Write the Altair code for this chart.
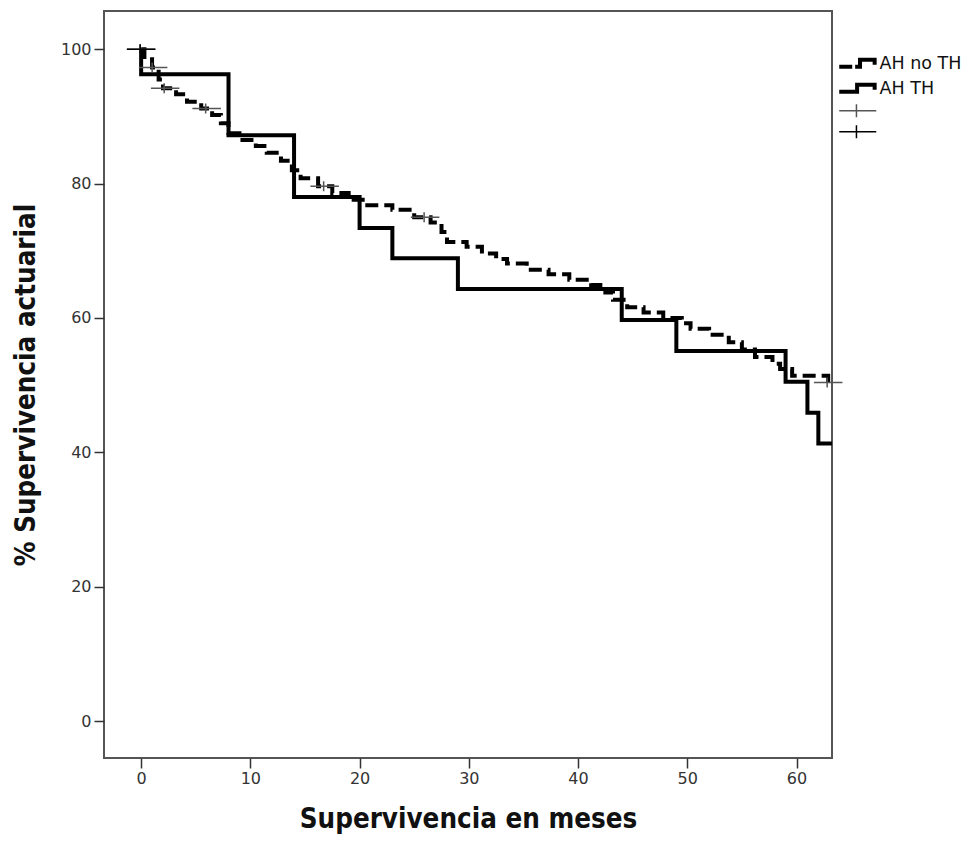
import altair as alt
import pandas as pd

# ---------------- data ----------------
# AH TH (solid step curve): time (months), % survival after the event
th_t = [0, 0, 8, 14, 20, 23, 29, 44, 49, 59, 61, 62, 64]
th_v = [100, 96.3, 87.2, 78.0, 73.4, 68.9, 64.3, 59.7, 55.1, 50.5, 45.9, 41.3, 41.3]

# AH no TH (dashed step curve)
noth_t = [0, 0.3, 1.0, 1.6, 2.0, 3.2, 4.2, 5.5, 6.5, 7.3, 8.0, 9.0, 10.5, 11.5,
          12.8, 13.8, 14.6, 16.2, 17.5, 19.0, 20.5, 23.0, 25.0, 26.5, 27.5, 28.0,
          29.8, 31.2, 32.5, 33.5, 35.3, 37.3, 39.2, 41.2, 42.5, 43.2, 44.5, 46.0,
          47.8, 49.5, 50.3, 52.0, 53.8, 55.0, 56.2, 57.8, 58.5, 59.6, 62.9, 64]
noth_v = [100, 98.5, 97.3, 95.5, 94.2, 93.3, 92.2, 91.2, 90.2, 89.0, 87.5, 86.5, 85.6, 84.6,
          83.4, 82.0, 80.8, 79.6, 78.6, 77.6, 76.8, 76.1, 75.0, 74.2, 72.8, 71.3,
          70.6, 69.6, 68.8, 68.1, 67.2, 66.5, 65.7, 64.9, 63.8, 62.7, 61.6, 60.8,
          60.0, 59.2, 58.4, 57.5, 56.4, 55.3, 54.2, 53.2, 52.4, 51.4, 50.4, 50.4]

# censored observations
cens_noth_t = [0, 1.1, 2.2, 6.0, 16.8, 26.0, 62.9]
cens_noth_v = [100, 97.3, 94.2, 91.2, 79.6, 75.0, 50.4]
cens_th_t = [0]
cens_th_v = [100]

legend_items = ["AH no TH", "AH TH", "c_noth", "c_th"]

x_ticks = [0, 10, 20, 30, 40, 50, 60]
y_ticks = [0, 20, 40, 60, 80, 100]

# ---------------- tables ----------------
df_th = pd.DataFrame({"t": th_t, "v": th_v})
df_noth = pd.DataFrame({"t": noth_t, "v": noth_v})
df_cens = pd.DataFrame({
    "t": cens_noth_t + cens_th_t,
    "v": cens_noth_v + cens_th_v,
    "leg": ["c_noth"] * len(cens_noth_t) + ["c_th"] * len(cens_th_t),
})

# ---------------- scales / axes ----------------
xs = alt.Scale(domain=[-3.4, 63.25], nice=False, zero=False)
ys = alt.Scale(domain=[-5.5, 105.7], nice=False, zero=False)

X = alt.X("t:Q", scale=xs, title="Supervivencia en meses",
          axis=alt.Axis(values=x_ticks, format="d"))
Y = alt.Y("v:Q", scale=ys, title="% Supervivencia actuarial",
          axis=alt.Axis(values=y_ticks, format="d"))

# legend symbols (custom SVG paths, symmetric about 0)
step_dash = "M-2.85,0.46 H-0.85 M-0.4,0.46 H0.35 V-0.62 H2.6 V0.15"
step_solid = "M-2.85,0.46 H-0.1 V-0.62 H2.6 V0.15"
plus = "M-2.85,0 H2.85 M-0.2,-1 V1"

leg = alt.Legend(
    orient="none", legendX=745, legendY=44,
    symbolSize=169, labelFontSize=17.5, labelFont="DejaVu Sans",
    labelColor="#111", labelOffset=13, rowPadding=1, padding=0,
    labelExpr="datum.value == 'AH no TH' || datum.value == 'AH TH' ? datum.value : ''",
)

line_th = alt.Chart(df_th).mark_line(
    interpolate="step-after", color="black", strokeWidth=4, clip=True
).encode(x=X, y=Y)

line_noth = alt.Chart(df_noth).mark_line(
    interpolate="step-after", color="black", strokeWidth=4,
    strokeDash=[13, 6], clip=True
).encode(x=X, y=Y)

cens = alt.Chart(df_cens).mark_point(filled=False, size=100, opacity=1).encode(
    x=X, y=Y,
    shape=alt.Shape("leg:N", title=None, legend=leg,
                    scale=alt.Scale(type="ordinal", domain=legend_items,
                                    range=[step_dash, step_solid, plus, plus])),
    color=alt.Color("leg:N", title=None, legend=leg,
                    scale=alt.Scale(type="ordinal", domain=legend_items,
                                    range=["black", "black", "#555555", "black"])),
    strokeWidth=alt.StrokeWidth("leg:N", title=None, legend=leg,
                                scale=alt.Scale(type="ordinal", domain=legend_items,
                                                range=[4, 4, 1.5, 1.5])),
)

chart = alt.layer(line_noth, line_th, cens).properties(
    width=728, height=747,
    autosize=alt.AutoSizeParams(type="none"),
    padding={"left": 96, "top": 3, "right": 130, "bottom": 76},
).configure_view(
    stroke="#555555", strokeWidth=2
).configure_axis(
    grid=False, domain=False,
    tickSize=10, tickWidth=1.5, tickColor="#333333",
    labelFont="DejaVu Sans", labelFontSize=16, labelColor="#333333",
    titleFont="DejaVu Sans Condensed, Liberation Sans Narrow, sans-serif",
    titleFontSize=27.5, titleFontWeight="bold", titleColor="#111111",
).configure_axisX(
    labelPadding=2, titlePadding=19
).configure_axisY(
    labelPadding=3, titlePadding=20
)

chart.save("out.html", embed_options={"renderer": "svg", "actions": False})
